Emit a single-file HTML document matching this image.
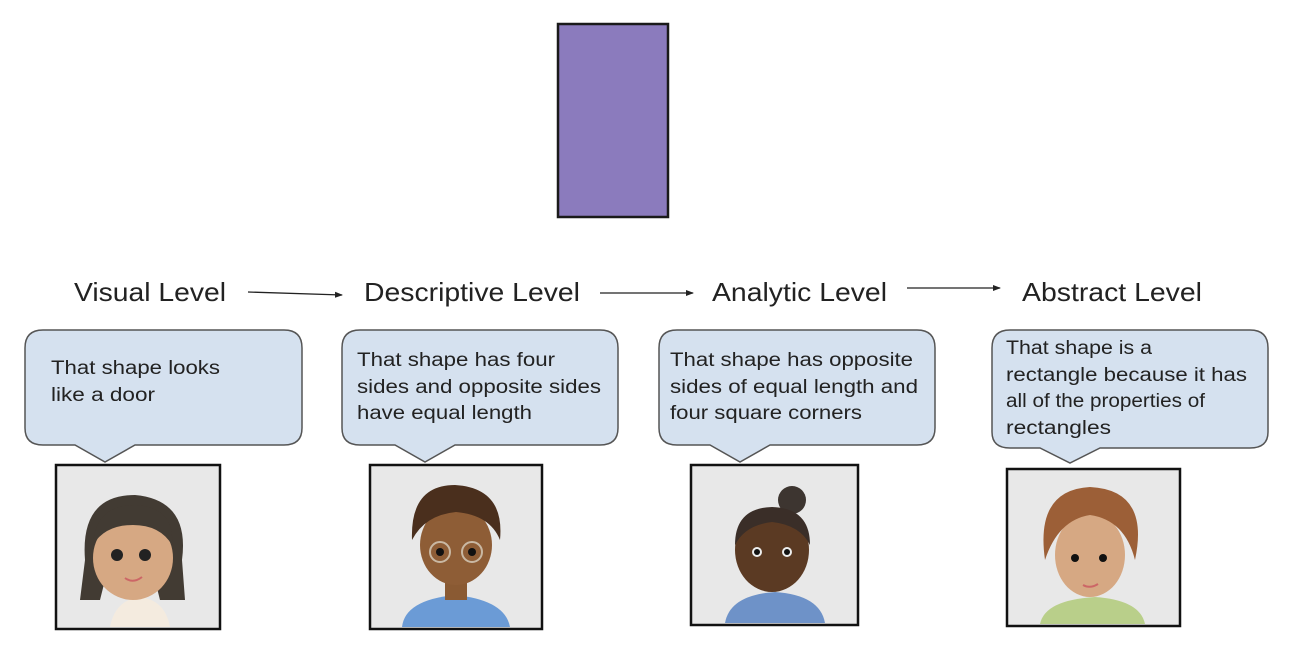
<!DOCTYPE html>
<html><head><meta charset="utf-8"><style>
html,body{margin:0;padding:0;background:#fff;}
svg{display:block}
text{font-family:"Liberation Sans",sans-serif;fill:#222}
.lbl{font-size:26px}
.bt{font-size:19px}
</style></head><body>
<svg width="1292" height="660" viewBox="0 0 1292 660" xmlns="http://www.w3.org/2000/svg">
<defs>
<marker id="ah" markerWidth="8" markerHeight="8" refX="7" refY="4" orient="auto" markerUnits="userSpaceOnUse">
<path d="M0,1 L8,4 L0,7 z" fill="#222"/></marker>
</defs>
<rect x="558" y="24" width="110" height="193" fill="#8b7bbd" stroke="#1a1a1a" stroke-width="2.5"/>

<text class="lbl" x="74" y="301" textLength="152" lengthAdjust="spacingAndGlyphs">Visual Level</text>
<text class="lbl" x="364" y="301" textLength="216" lengthAdjust="spacingAndGlyphs">Descriptive Level</text>
<text class="lbl" x="712" y="301" textLength="175" lengthAdjust="spacingAndGlyphs">Analytic Level</text>
<text class="lbl" x="1022" y="301" textLength="180" lengthAdjust="spacingAndGlyphs">Abstract Level</text>
<line x1="248" y1="292" x2="342" y2="295" stroke="#222" stroke-width="1.3" marker-end="url(#ah)"/>
<line x1="600" y1="293" x2="693" y2="293" stroke="#222" stroke-width="1.3" marker-end="url(#ah)"/>
<line x1="907" y1="288" x2="1000" y2="288" stroke="#222" stroke-width="1.3" marker-end="url(#ah)"/>

<g fill="#d5e1ef" stroke="#555" stroke-width="1.5">
<path d="M43,330 H284 Q302,330 302,348 V428 Q302,445 284,445 H135 L105,462 L75,445 H43 Q25,445 25,428 V348 Q25,330 43,330 Z"/>
<path d="M360,330 H600 Q618,330 618,348 V428 Q618,445 600,445 H455 L425,462 L395,445 H360 Q342,445 342,428 V348 Q342,330 360,330 Z"/>
<path d="M677,330 H917 Q935,330 935,348 V428 Q935,445 917,445 H770 L740,462 L710,445 H677 Q659,445 659,428 V348 Q659,330 677,330 Z"/>
<path d="M1010,330 H1250 Q1268,330 1268,348 V432 Q1268,448 1250,448 H1100 L1070,463 L1040,448 H1010 Q992,448 992,432 V348 Q992,330 1010,330 Z"/>
</g>
<g lengthAdjust="spacingAndGlyphs">
<text class="bt" x="51" y="374" textLength="169" lengthAdjust="spacingAndGlyphs">That shape looks</text>
<text class="bt" x="51" y="401" textLength="104" lengthAdjust="spacingAndGlyphs">like a door</text>
<text class="bt" x="357" y="366" textLength="198" lengthAdjust="spacingAndGlyphs">That shape has four</text>
<text class="bt" x="357" y="393" textLength="244" lengthAdjust="spacingAndGlyphs">sides and opposite sides</text>
<text class="bt" x="357" y="419" textLength="175" lengthAdjust="spacingAndGlyphs">have equal length</text>
<text class="bt" x="670" y="366" textLength="243" lengthAdjust="spacingAndGlyphs">That shape has opposite</text>
<text class="bt" x="670" y="393" textLength="248" lengthAdjust="spacingAndGlyphs">sides of equal length and</text>
<text class="bt" x="670" y="419" textLength="192" lengthAdjust="spacingAndGlyphs">four square corners</text>
<text class="bt" x="1006" y="354" textLength="146" lengthAdjust="spacingAndGlyphs">That shape is a</text>
<text class="bt" x="1006" y="381" textLength="241" lengthAdjust="spacingAndGlyphs">rectangle because it has</text>
<text class="bt" x="1006" y="407" textLength="199" lengthAdjust="spacingAndGlyphs">all of the properties of</text>
<text class="bt" x="1006" y="434" textLength="105" lengthAdjust="spacingAndGlyphs">rectangles</text>
</g>

<!-- avatar 1 -->
<rect x="56" y="465" width="164" height="164" fill="#e8e8e8" stroke="#111" stroke-width="2.5"/>
<path d="M110,627 Q115,600 140,597 Q165,600 170,627 Z" fill="#f4ebdf"/>
<path d="M85,560 Q80,495 135,495 Q190,500 182,560 L185,600 L160,600 L150,560 L110,560 L100,600 L80,600 Z" fill="#423b33"/>
<ellipse cx="133" cy="558" rx="40" ry="42" fill="#d6a883"/>
<path d="M93,545 Q95,505 135,505 Q175,507 172,545 Q160,525 133,525 Q105,525 93,545Z" fill="#423b33"/>
<circle cx="117" cy="555" r="6" fill="#222"/><circle cx="145" cy="555" r="6" fill="#222"/>
<path d="M125,578 Q133,584 142,577" stroke="#c66" stroke-width="2" fill="none"/>
<!-- avatar 2 -->
<rect x="370" y="465" width="172" height="164" fill="#e8e8e8" stroke="#111" stroke-width="2.5"/>
<path d="M402,627 Q405,600 455,595 Q505,600 510,627 Z" fill="#6b9bd6"/>
<rect x="445" y="575" width="22" height="25" fill="#8a5a33"/>
<ellipse cx="456" cy="545" rx="36" ry="40" fill="#8e5d36"/>
<path d="M412,540 Q410,485 455,485 Q505,488 500,540 Q490,515 456,512 Q425,515 412,540Z" fill="#4a2f1d"/>
<circle cx="440" cy="552" r="10" fill="none" stroke="#c9b8a3" stroke-width="2"/><circle cx="472" cy="552" r="10" fill="none" stroke="#c9b8a3" stroke-width="2"/>
<circle cx="440" cy="552" r="4" fill="#111"/><circle cx="472" cy="552" r="4" fill="#111"/>
<!-- avatar 3 -->
<rect x="691" y="465" width="167" height="160" fill="#e8e8e8" stroke="#111" stroke-width="2.5"/>
<path d="M725,623 Q730,595 775,592 Q820,595 825,623 Z" fill="#6e92c8"/>
<circle cx="792" cy="500" r="14" fill="#3d3530"/>
<ellipse cx="772" cy="550" rx="37" ry="42" fill="#5b3a23"/>
<path d="M735,545 Q735,508 772,507 Q810,508 810,545 Q800,525 772,522 Q745,525 735,545Z" fill="#3a2e28"/>
<circle cx="757" cy="552" r="5" fill="#eee"/><circle cx="787" cy="552" r="5" fill="#eee"/>
<circle cx="757" cy="552" r="3" fill="#111"/><circle cx="787" cy="552" r="3" fill="#111"/>
<!-- avatar 4 -->
<rect x="1007" y="469" width="173" height="157" fill="#e8e8e8" stroke="#111" stroke-width="2.5"/>
<path d="M1040,624 Q1045,600 1095,597 Q1140,600 1145,624 Z" fill="#b9cf8a"/>
<ellipse cx="1090" cy="555" rx="35" ry="42" fill="#d6a883"/>
<path d="M1045,560 Q1035,490 1090,487 Q1150,490 1135,560 Q1125,520 1090,515 Q1058,520 1045,560Z" fill="#9c5f37"/>
<circle cx="1075" cy="558" r="4" fill="#111"/><circle cx="1103" cy="558" r="4" fill="#111"/>
<path d="M1083,585 Q1090,589 1098,584" stroke="#c66" stroke-width="2" fill="none"/>
</svg>
</body></html>
